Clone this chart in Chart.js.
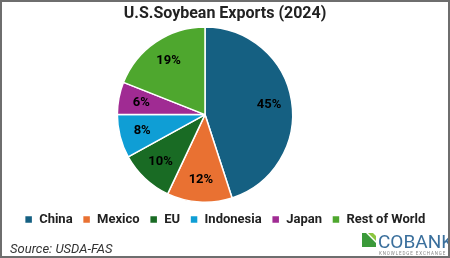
<!DOCTYPE html>
<html><head><meta charset="utf-8">
<script src="https://cdn.jsdelivr.net/npm/chart.js@4/dist/chart.umd.min.js"></script>
<style>html,body{margin:0;padding:0;background:#fff;overflow:hidden}#wrap{position:relative;width:450px;height:258px}</style>
</head><body><div id="wrap"><canvas id="c" width="450" height="258"></canvas></div>
<script>
const categories = ["China", "Mexico", "EU", "Indonesia", "Japan", "Rest of World"];
const shares = [45, 12, 10, 8, 6, 19];
const colors = ["#156082", "#E97132", "#196B24", "#0F9ED5", "#A02B93", "#4EA72E"];
const titleText = "U.S.Soybean Exports (2024)";
const sourceText = "Source: USDA-FAS";
const FONT = "Roboto, 'Liberation Sans', sans-serif";

const extras = {
  id: 'extras',
  afterLayout(chart) {
    chart.chartArea.right = chart.chartArea.right - 40;
    chart.chartArea.width = chart.chartArea.right - chart.chartArea.left;
  },
  afterDatasetsDraw(chart) {
    const ctx = chart.ctx;
    const meta = chart.getDatasetMeta(0);
    ctx.save();
    ctx.fillStyle = '#000';
    ctx.font = "bold 13px " + FONT;
    ctx.textAlign = 'center';
    ctx.textBaseline = 'middle';
    meta.data.forEach((arc, i) => {
      const p = arc.getProps(['x','y','startAngle','endAngle','outerRadius'], true);
      const mid = (p.startAngle + p.endAngle) / 2;
      const r = p.outerRadius * 0.74;
      ctx.fillText(shares[i] + '%', p.x + Math.cos(mid) * r, p.y + Math.sin(mid) * r);
    });
    ctx.restore();
  },
  afterDraw(chart) {
    const ctx = chart.ctx;
    ctx.save();
    ctx.fillStyle = '#333';
    ctx.font = "italic 13px " + FONT;
    ctx.textAlign = 'left';
    ctx.textBaseline = 'alphabetic';
    ctx.fillText(sourceText, 10, 253);
    ctx.fillStyle = '#3b9a3a';
    ctx.fillRect(362, 233, 14, 14);
    ctx.fillStyle = '#ffffff';
    ctx.beginPath();
    ctx.moveTo(366, 233); ctx.lineTo(376, 243); ctx.lineTo(376, 233); ctx.closePath();
    ctx.fill();
    ctx.fillStyle = '#8cc63f';
    ctx.beginPath();
    ctx.moveTo(368, 233); ctx.lineTo(376, 241); ctx.lineTo(376, 236); ctx.lineTo(373, 233); ctx.closePath();
    ctx.fill();
    ctx.fillStyle = '#3a6f9c';
    ctx.font = "19px " + FONT;
    ctx.fillText("COBANK", 378, 248);
    ctx.fillStyle = '#888';
    ctx.font = "4.5px " + FONT;
    ctx.letterSpacing = '0.9px';
    ctx.fillText("KNOWLEDGE EXCHANGE", 379, 255);
    ctx.letterSpacing = '0px';
    ctx.strokeStyle = '#6e6e6e';
    ctx.lineWidth = 2;
    ctx.strokeRect(1, 1, 448, 256);
    ctx.restore();
  }
};

new Chart(document.getElementById('c'), {
  type: 'pie',
  data: {
    labels: categories,
    datasets: [{ data: shares, backgroundColor: colors, borderColor: '#fff', borderWidth: 1.5 }]
  },
  options: {
    responsive: false,
    animation: false,
    layout: { padding: { left: 0, right: 0, top: 0, bottom: 22 } },
    plugins: {
      title: { display: true, text: titleText, color: '#222', font: { family: FONT, size: 16, weight: 'bold' }, padding: { top: 4, bottom: 3 } },
      legend: {
        position: 'bottom',
        labels: { boxWidth: 8, boxHeight: 8, color: '#222', font: { family: FONT, size: 13, weight: 'bold' }, padding: 10 }
      },
      tooltip: { enabled: false }
    }
  },
  plugins: [extras]
});
</script></body></html>
